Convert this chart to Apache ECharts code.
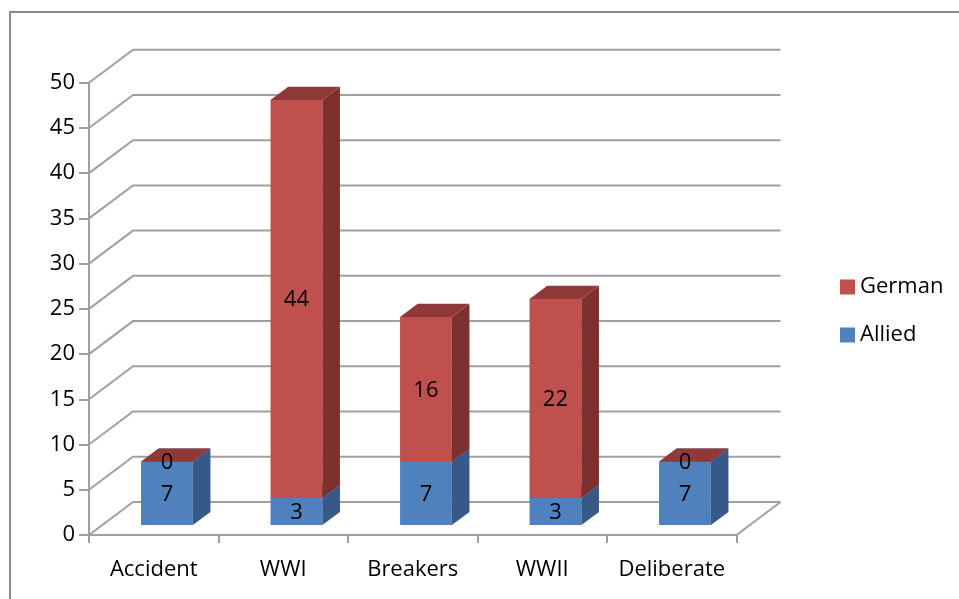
<!DOCTYPE html>
<html>
<head>
<meta charset="utf-8">
<script src="https://cdn.jsdelivr.net/npm/echarts@6/dist/echarts.min.js"></script>
<style>
html,body{margin:0;padding:0;background:#fff;}
#main{width:959px;height:599px;}
</style>
</head>
<body>
<div id="main"></div>
<script>
// ---- data ----
const categories = ['Accident', 'WWI', 'Breakers', 'WWII', 'Deliberate'];
const allied = [7, 3, 7, 3, 7];
const german = [0, 44, 16, 22, 0];
const yTicks = [0, 5, 10, 15, 20, 25, 30, 35, 40, 45, 50];

// ---- style constants ----
const DEPTH_X = 44, DEPTH_Y = -33;      // 3D depth offset of the back wall
const BAR_FRONT = 0.3, BAR_BACK = 0.7;  // bar depth position (fraction of depth)
const BAR_W = 0.40;                     // bar width as fraction of band
const GRID_COLOR = '#A0A0A0';
const FONT = '"Open Sans", "Noto Sans", sans-serif';
const FS = 22;
const COLORS = {
  Allied: {front: '#4F81BD', side: '#36598A', top: '#40699C'},
  German: {front: '#C0504D', side: '#7D302E', top: '#8F3A38'}
};

const chart = echarts.init(document.getElementById('main'), null, {renderer: 'canvas'});

function gridRender(params, api) {
  const v = api.value(1);
  const n = categories.length;
  const c0 = api.coord([0, v]);
  const band = api.size([1, 0])[0];
  const x0 = c0[0] - band / 2;
  const x1 = c0[0] + band * (n - 0.5);
  const y = c0[1];
  const children = [{
    type: 'polyline',
    shape: {points: [[x0, y], [x0 + DEPTH_X, y + DEPTH_Y], [x1 + DEPTH_X, y + DEPTH_Y]]},
    style: {stroke: GRID_COLOR, lineWidth: 2, fill: null}
  }];
  if (v === 0) {
    children.push({
      type: 'line',
      shape: {x1: x1, y1: y, x2: x1 + DEPTH_X, y2: y + DEPTH_Y},
      style: {stroke: GRID_COLOR, lineWidth: 2}
    });
  }
  return {type: 'group', children: children};
}

function makeBarRender(name) {
  const col = COLORS[name];
  return function (params, api) {
    const i = api.value(0);
    const base = api.value(1);
    const top = api.value(2);
    const val = api.value(3);
    const pb = api.coord([i, base]);
    const pt = api.coord([i, top]);
    const band = api.size([1, 0])[0];
    const w = band * BAR_W;
    const fx = DEPTH_X * BAR_FRONT, fy = DEPTH_Y * BAR_FRONT;
    const bx = DEPTH_X * (BAR_BACK - BAR_FRONT), by = DEPTH_Y * (BAR_BACK - BAR_FRONT);
    const xl = pb[0] - w / 2 + fx, xr = pb[0] + w / 2 + fx;
    const yb = pb[1] + fy, yt = pt[1] + fy;
    const children = [];
    if (yb - yt > 0.01) {
      children.push({type: 'polygon', shape: {points: [[xl, yt], [xr, yt], [xr, yb], [xl, yb]]},
        style: {fill: col.front}});
      children.push({type: 'polygon', shape: {points: [[xr, yt], [xr, yb], [xr + bx, yb + by], [xr + bx, yt + by]]},
        style: {fill: col.side}});
    }
    children.push({type: 'polygon', shape: {points: [[xl, yt], [xr, yt], [xr + bx, yt + by], [xl + bx, yt + by]]},
      style: {fill: col.top}});
    children.push({type: 'text', style: {
      x: (xl + xr) / 2, y: (yt + yb) / 2 + 1, text: String(val),
      font: FS + 'px ' + FONT, fill: '#000', align: 'center', verticalAlign: 'middle'
    }, z2: 10});
    return {type: 'group', children: children};
  };
}

const alliedData = categories.map((c, i) => [i, 0, allied[i], allied[i]]);
const germanData = categories.map((c, i) => [i, allied[i], allied[i] + german[i], german[i]]);

const option = {
  backgroundColor: '#fff',
  animation: false,
  graphic: [{
    type: 'rect', shape: {x: 10, y: 12, width: 1000, height: 700},
    style: {fill: null, stroke: '#8C8C8C', lineWidth: 2}, silent: true, z: -10
  }],
  grid: {left: 89, right: 222.5, top: 82.7, bottom: 64, containLabel: false, outerBoundsMode: 'none'},
  legend: {
    orient: 'vertical', left: 835, top: 271,
    data: ['German', 'Allied'],
    icon: 'rect', itemWidth: 15, itemHeight: 15, itemGap: 26,
    textStyle: {fontFamily: FONT, fontSize: FS, color: '#000'}
  },
  xAxis: {
    type: 'category', data: categories, boundaryGap: true,
    axisLine: {show: true, lineStyle: {color: GRID_COLOR, width: 2}},
    axisTick: {show: true, length: 8, alignWithLabel: false, lineStyle: {color: GRID_COLOR, width: 2}},
    axisLabel: {margin: 24, fontFamily: FONT, fontSize: FS, color: '#000', interval: 0},
    splitLine: {show: false}
  },
  yAxis: {
    type: 'value', min: 0, max: 50, interval: 5,
    axisLine: {show: true, lineStyle: {color: GRID_COLOR, width: 2}},
    axisTick: {show: true, length: 10, lineStyle: {color: GRID_COLOR, width: 2}},
    axisLabel: {margin: 14, fontFamily: FONT, fontSize: FS, color: '#000'},
    splitLine: {show: false}
  },
  series: [
    {
      name: 'gridlines', type: 'custom', renderItem: gridRender, silent: true, z: 1,
      data: yTicks.map(v => [0, v]), encode: {x: 0, y: 1}
    },
    {
      name: 'Allied', type: 'custom', renderItem: makeBarRender('Allied'), z: 3,
      itemStyle: {color: COLORS.Allied.front},
      data: alliedData, encode: {x: 0, y: [1, 2]}
    },
    {
      name: 'German', type: 'custom', renderItem: makeBarRender('German'), z: 4,
      itemStyle: {color: COLORS.German.front},
      data: germanData, encode: {x: 0, y: [1, 2]}
    }
  ]
};
chart.setOption(option);
</script>
</body>
</html>
